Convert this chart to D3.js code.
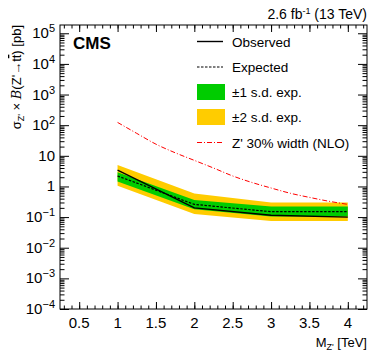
<!DOCTYPE html>
<html>
<head>
<meta charset="utf-8">
<script src="https://cdn.jsdelivr.net/npm/d3@7"></script>
<style>
  body { margin: 0; background: #fff; }
  text { font-family: "Liberation Sans", Arial, sans-serif; }
</style>
</head>
<body>
<div id="chart"></div>
<script>
// datos
var masses = [1, 2, 3, 4]
var observed = [3.4, 0.2, 0.115, 0.1]
var expected = [2.2, 0.26, 0.15, 0.15]
var band1Lo = [1.45, 0.18, 0.104, 0.104]
var band1Hi = [2.9, 0.36, 0.22, 0.22]
var band2Lo = [1.05, 0.125, 0.075, 0.075]
var band2Hi = [5.0, 0.59, 0.3, 0.3]
var zpMasses = [1, 1.25, 1.5, 1.75, 2, 2.25, 2.5, 2.75, 3, 3.25, 3.5, 3.75, 4]
var zpXsec = [123, 54, 24, 12.6, 7.1, 4.0, 2.2, 1.35, 0.89, 0.6, 0.44, 0.33, 0.26]
var xTicks = [0.5, 1, 1.5, 2, 2.5, 3, 3.5, 4]
var yExps = [5, 4, 3, 2, 1, 0, -1, -2, -3, -4]

//Crea Lienzo
var width = 374
var height = 355
var pLeft = 60, pRight = 367, pTop = 25, pBottom = 309

var svg = d3.select("#chart")
            .append("svg")
            .attr("width", width)
            .attr("height", height)

var x = d3.scaleLinear().domain([0.25, 4.25]).range([pLeft, pRight])
var y = d3.scaleLog().domain([1e-4, Math.pow(10, 5.27)]).range([pBottom, pTop])

var toPts = (xs, ys) => xs.map((m, i) => ({m: m, v: ys[i]}))

//Bandas
var area = (lo, hi) => d3.area()
                .x(d => x(d.m))
                .y0((d, i) => y(lo[i]))
                .y1((d, i) => y(hi[i]))

svg.append("path")
   .attr("d", area(band2Lo, band2Hi)(masses.map(m => ({m: m}))))
   .attr("fill", "#ffcc00")
svg.append("path")
   .attr("d", area(band1Lo, band1Hi)(masses.map(m => ({m: m}))))
   .attr("fill", "#00cc00")

var line = d3.line().x(d => x(d.m)).y(d => y(d.v))

svg.append("path")
   .attr("d", line(toPts(masses, expected)))
   .attr("fill", "none").attr("stroke", "black")
   .attr("stroke-width", 1.2).attr("stroke-dasharray", "2.5,1.5")
svg.append("path")
   .attr("d", line(toPts(masses, observed)))
   .attr("fill", "none").attr("stroke", "black").attr("stroke-width", 1.4)
svg.append("path")
   .attr("d", d3.line().curve(d3.curveMonotoneX).x(d => x(d.m)).y(d => y(d.v))(toPts(zpMasses, zpXsec)))
   .attr("fill", "none").attr("stroke", "#ff0000").attr("stroke-width", 1)
   .attr("stroke-dasharray", "5,2,1,2")

//Marco
svg.append("rect")
   .attr("x", pLeft).attr("y", pTop)
   .attr("width", pRight - pLeft).attr("height", pBottom - pTop)
   .attr("fill", "none").attr("stroke", "black").attr("stroke-width", 1)

//Ticks X
var xMinor = d3.range(3, 43).map(i => i / 10).filter(v => v >= 0.25 && v <= 4.25)
function xAxisAt(axisFn, vals, size, ypos) {
    var g = svg.append("g")
               .attr("transform", "translate(0," + ypos + ")")
               .call(axisFn(x).tickValues(vals).tickSize(size).tickSizeOuter(0).tickFormat(""))
    g.select(".domain").remove()
    g.selectAll("line").attr("stroke", "black")
}
xAxisAt(d3.axisBottom, xMinor, -3.5, pBottom)
xAxisAt(d3.axisBottom, xTicks, -7, pBottom)
xAxisAt(d3.axisTop, xMinor, -3.5, pTop)
xAxisAt(d3.axisTop, xTicks, -7, pTop)

svg.append("g")
   .selectAll("text")
   .data(xTicks)
   .enter()
   .append("text")
   .attr("x", d => x(d))
   .attr("y", pBottom + 19)
   .style("text-anchor", "middle")
   .style("font-size", "15px")
   .text(d => d)

//Ticks Y
var yMinor = []
for (var e = -4; e <= 5; e++) {
    for (var k = 2; k <= 9; k++) {
        var v = k * Math.pow(10, e)
        if (v <= y.domain()[1]) yMinor.push(v)
    }
}
var yMajor = yExps.map(e => Math.pow(10, e))
function yAxisAt(axisFn, vals, size, xpos) {
    var g = svg.append("g")
               .attr("transform", "translate(" + xpos + ",0)")
               .call(axisFn(y).tickValues(vals).tickSize(size).tickSizeOuter(0).tickFormat(""))
    g.select(".domain").remove()
    g.selectAll("line").attr("stroke", "black")
}
yAxisAt(d3.axisLeft, yMinor, -4.5, pLeft)
yAxisAt(d3.axisLeft, yMajor, -9, pLeft)
yAxisAt(d3.axisRight, yMinor, -4.5, pRight)
yAxisAt(d3.axisRight, yMajor, -9, pRight)

var yLab = svg.append("g")
              .selectAll("text")
              .data(yExps)
              .enter()
              .append("text")
              .attr("x", 55)
              .attr("y", e => y(Math.pow(10, e)) + 5)
              .style("text-anchor", "end")
              .style("font-size", "15px")
yLab.each(function (e) {
    var t = d3.select(this)
    if (e === 0) { t.text("1"); return }
    if (e === 1) { t.text("10"); return }
    t.append("tspan").text("10")
    t.append("tspan").attr("dy", -6).style("font-size", "11px").text(e < 0 ? "\u2212" + (-e) : e)
})

//Textos
var lumi = svg.append("text")
              .attr("x", pRight)
              .attr("y", 19)
              .style("text-anchor", "end")
              .style("font-size", "14px")
lumi.append("tspan").text("2.6 fb")
lumi.append("tspan").attr("dy", -5).style("font-size", "9px").text("-1")
lumi.append("tspan").attr("dy", 5).text(" (13 TeV)")

svg.append("text")
   .attr("x", 73).attr("y", 49)
   .style("font-weight", "bold")
   .style("font-size", "17px")
   .text("CMS")

var xl = svg.append("text")
            .attr("x", pRight).attr("y", 347)
            .style("text-anchor", "end")
            .style("font-size", "13px")
xl.append("tspan").text("M")
xl.append("tspan").attr("dy", 3).style("font-size", "9px").text("Z'")
xl.append("tspan").attr("dy", -3).text(" [TeV]")

var yl = svg.append("text")
            .attr("transform", "translate(21," + pTop + ") rotate(-90)")
            .style("text-anchor", "end")
            .style("font-size", "13px")
yl.append("tspan").text("\u03c3")
yl.append("tspan").attr("dy", 3).style("font-size", "9px").text("Z'")
yl.append("tspan").attr("dy", -3).text(" \u00d7 ")
yl.append("tspan").style("font-family", "DejaVu Serif").style("font-style", "italic").text("B")
yl.append("tspan").text("(Z'\u2192t")
yl.append("tspan").style("text-decoration", "overline").text("t")
yl.append("tspan").text(") [pb]")

//Leyenda
var lx1 = 197, lx2 = 223, tx = 232
svg.append("line").attr("x1", lx1).attr("x2", lx2).attr("y1", 41.5).attr("y2", 41.5)
   .attr("stroke", "black").attr("stroke-width", 1.4)
svg.append("line").attr("x1", lx1).attr("x2", lx2).attr("y1", 67).attr("y2", 67)
   .attr("stroke", "black").attr("stroke-width", 1.2).attr("stroke-dasharray", "2.5,1.5")
svg.append("rect").attr("x", lx1).attr("y", 84).attr("width", 28).attr("height", 16).attr("fill", "#00cc00")
svg.append("rect").attr("x", lx1).attr("y", 109).attr("width", 28).attr("height", 16).attr("fill", "#ffcc00")
svg.append("line").attr("x1", lx1).attr("x2", lx2).attr("y1", 142.5).attr("y2", 142.5)
   .attr("stroke", "#ff0000").attr("stroke-width", 1).attr("stroke-dasharray", "5,2,1,2")

var legTexts = ["Observed", "Expected", "\u00b11 s.d. exp.", "\u00b12 s.d. exp.", "Z' 30% width (NLO)"]
var legY = [41.5, 67, 92, 117, 142.5]
svg.append("g")
   .selectAll("text")
   .data(legTexts)
   .enter()
   .append("text")
   .attr("x", tx)
   .attr("y", (d, i) => legY[i] + 5)
   .style("font-size", "13.5px")
   .text(d => d)
</script>
</body>
</html>
